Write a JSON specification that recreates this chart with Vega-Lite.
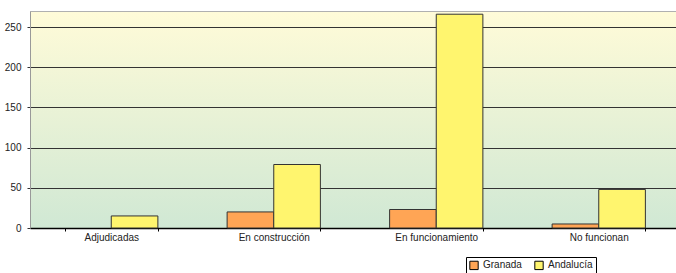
{
  "$schema": "https://vega.github.io/schema/vega-lite/v6.json",
  "autosize": "none",
  "width": 650,
  "height": 217,
  "padding": {"left": 30, "top": 11, "right": 0, "bottom": 45},
  "data": {
    "values": [
      {"estado": "Adjudicadas", "zona": "Andalucía", "n": 15},
      {"estado": "En construcción", "zona": "Granada", "n": 20},
      {"estado": "En construcción", "zona": "Andalucía", "n": 79},
      {"estado": "En funcionamiento", "zona": "Granada", "n": 23},
      {"estado": "En funcionamiento", "zona": "Andalucía", "n": 266},
      {"estado": "No funcionan", "zona": "Granada", "n": 5},
      {"estado": "No funcionan", "zona": "Andalucía", "n": 48}
    ]
  },
  "config": {
    "font": "Liberation Sans",
    "view": {
      "stroke": "#b0b0b0",
      "fill": {
        "gradient": "linear",
        "x1": 0, "y1": 0, "x2": 0, "y2": 1,
        "stops": [
          {"offset": 0, "color": "#fffbd8"},
          {"offset": 1, "color": "#d0e8d4"}
        ]
      }
    }
  },
  "mark": {"type": "bar", "stroke": "#333333", "strokeWidth": 1},
  "encoding": {
    "x": {
      "field": "estado",
      "type": "nominal",
      "sort": null,
      "title": null,
      "scale": {"domain": ["Adjudicadas", "En construcción", "En funcionamiento", "No funcionan"], "paddingInner": 0.426, "paddingOuter": 0.213},
      "axis": {
        "labelAngle": 0,
        "labelFontSize": 10,
        "labelColor": "#222222",
        "labelPadding": 1,
        "tickBand": "extent",
        "tickSize": 3,
        "tickColor": "#000000",
        "domainColor": "#000000",
        "domainWidth": 1.5
      }
    },
    "xOffset": {"field": "zona", "type": "nominal", "scale": {"domain": ["Granada", "Andalucía"], "paddingInner": 0, "paddingOuter": 0}},
    "y": {
      "field": "n",
      "type": "quantitative",
      "title": null,
      "scale": {"domain": [0, 270], "nice": false},
      "axis": {
        "values": [0, 50, 100, 150, 200, 250],
        "labelFontSize": 10,
        "labelColor": "#222222",
        "gridColor": "#333333",
        "gridWidth": 1,
        "gridOpacity": 1,
        "domainColor": "#999999",
        "tickColor": "#333333",
        "tickSize": 3,
        "labelPadding": 6
      }
    },
    "color": {
      "field": "zona",
      "type": "nominal",
      "scale": {"domain": ["Granada", "Andalucía"], "range": ["#ffa555", "#fff56e"]},
      "legend": {
        "title": null,
        "orient": "none",
        "direction": "horizontal",
        "legendX": 436,
        "legendY": 246,
        "strokeColor": "#000000",
        "padding": 3,
        "symbolType": "square",
        "symbolSize": 70,
        "symbolStrokeColor": "#000000",
        "symbolStrokeWidth": 1,
        "symbolOpacity": 1,
        "labelFontSize": 10,
        "labelColor": "#222222",
        "columnPadding": 10
      }
    }
  }
}
